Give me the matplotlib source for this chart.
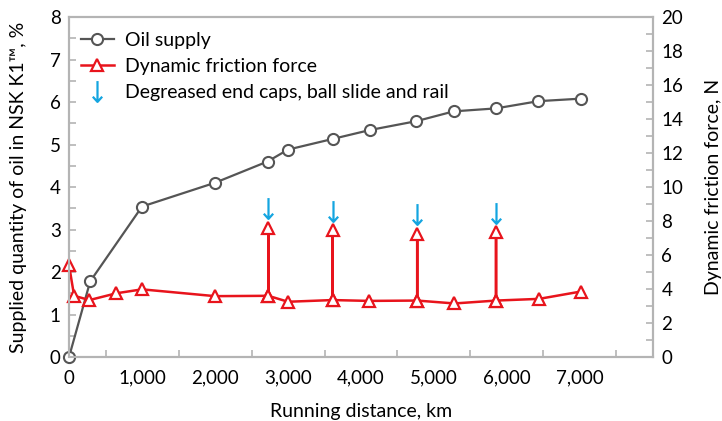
import matplotlib.pyplot as plt
import numpy as np
from matplotlib.path import Path

plt.rcParams['font.family'] = ['Lato', 'DejaVu Sans']

# oil supply (left axis, %)
oil_km = [0, 290, 1000, 2000, 2720, 3000, 3610, 4120, 4760, 5270, 5850, 6430, 7020]
oil_pct = [0.0, 1.78, 3.54, 4.1, 4.6, 4.88, 5.13, 5.34, 5.55, 5.78, 5.85, 6.02, 6.08]

# dynamic friction force (right axis, N); spikes repeat the distance
fric_km = [0, 70, 280, 650, 1000, 2000, 2730, 2730, 2730, 3000, 3610, 3610, 3610,
           4110, 4770, 4770, 4770, 5280, 5850, 5850, 5850, 6440, 7010]
fric_n = [5.4, 3.6, 3.35, 3.75, 3.98, 3.58, 3.6, 7.6, 3.6, 3.25, 3.35, 7.45, 3.35,
          3.3, 3.32, 7.25, 3.32, 3.15, 3.32, 7.35, 3.32, 3.42, 3.85]

# degreasing events (arrow above each spike)
degrease_km = [2730, 3610, 4770, 5850]
degrease_n = [8.75, 8.6, 8.4, 8.5]

xticks = [0, 1000, 2000, 3000, 4000, 5000, 6000, 7000]
xticklabels = ['0', '1,000', '2,000', '3,000', '4,000', '5,000', '6,000', '7,000']

grey = '#b4b4b4'
red = '#e8141c'
blue = '#14a5e0'

# thin down arrow marker
arrow = Path([(0, 1), (0, -1), (-0.45, -0.5), (0, -1), (0.45, -0.5)],
             [Path.MOVETO, Path.LINETO, Path.MOVETO, Path.LINETO, Path.LINETO])

fig = plt.figure(figsize=(7.22, 4.21), dpi=100)
ax = fig.add_axes([0.0956, 0.152, 0.8088, 0.8076])
ax2 = ax.twinx()

l1, = ax.plot(oil_km, oil_pct, color='#555555', lw=1.6, marker='o', ms=8,
              mfc='white', mec='#555555', mew=1.5, clip_on=False, zorder=3,
              label='Oil supply')
l2, = ax2.plot(fric_km, fric_n, color=red, lw=1.8, marker='^', ms=8.5,
               mfc='white', mec=red, mew=1.6, clip_on=False,
               label='Dynamic friction force')
l3, = ax2.plot(degrease_km, degrease_n, ls='none', marker=arrow, ms=15,
               mfc='none', mec=blue, mew=1.6,
               label='Degreased end caps, ball slide and rail')

ax.set_xlim(0, 8000)
ax.set_ylim(0, 8)
ax2.set_ylim(0, 20)

ax.set_xticks(xticks)
ax.set_xticklabels(xticklabels)
ax.set_xticks(np.arange(0, 8001, 500), minor=True)
ax.set_yticks(range(0, 9))
ax.set_yticks(np.arange(0, 8.01, 0.5), minor=True)
ax2.set_yticks(range(0, 21, 2))
ax2.set_yticks(range(0, 21), minor=True)

for a in (ax, ax2):
    for s in a.spines.values():
        s.set_color(grey)
        s.set_linewidth(1.5)
    a.tick_params(which='both', direction='in', color=grey, width=1.2,
                  labelsize=13.5, length=5, pad=6)
ax.tick_params(axis='x', which='major', length=0, pad=9)
ax.tick_params(axis='x', which='minor', length=5)

ax.set_xlabel('Running distance, km', fontsize=14, labelpad=12)
ax.set_ylabel('Supplied quantity of oil in NSK K1™, %', fontsize=14, labelpad=16)
ax2.set_ylabel('Dynamic friction force, N', fontsize=14, labelpad=16)

ax.legend(handles=[l1, l2, l3], loc='upper left', frameon=False, fontsize=14,
          handlelength=1.7, handletextpad=0.6, borderaxespad=0.2,
          labelspacing=0.45, bbox_to_anchor=(0.0, 0.99))

fig.savefig('out.png', dpi=100)
